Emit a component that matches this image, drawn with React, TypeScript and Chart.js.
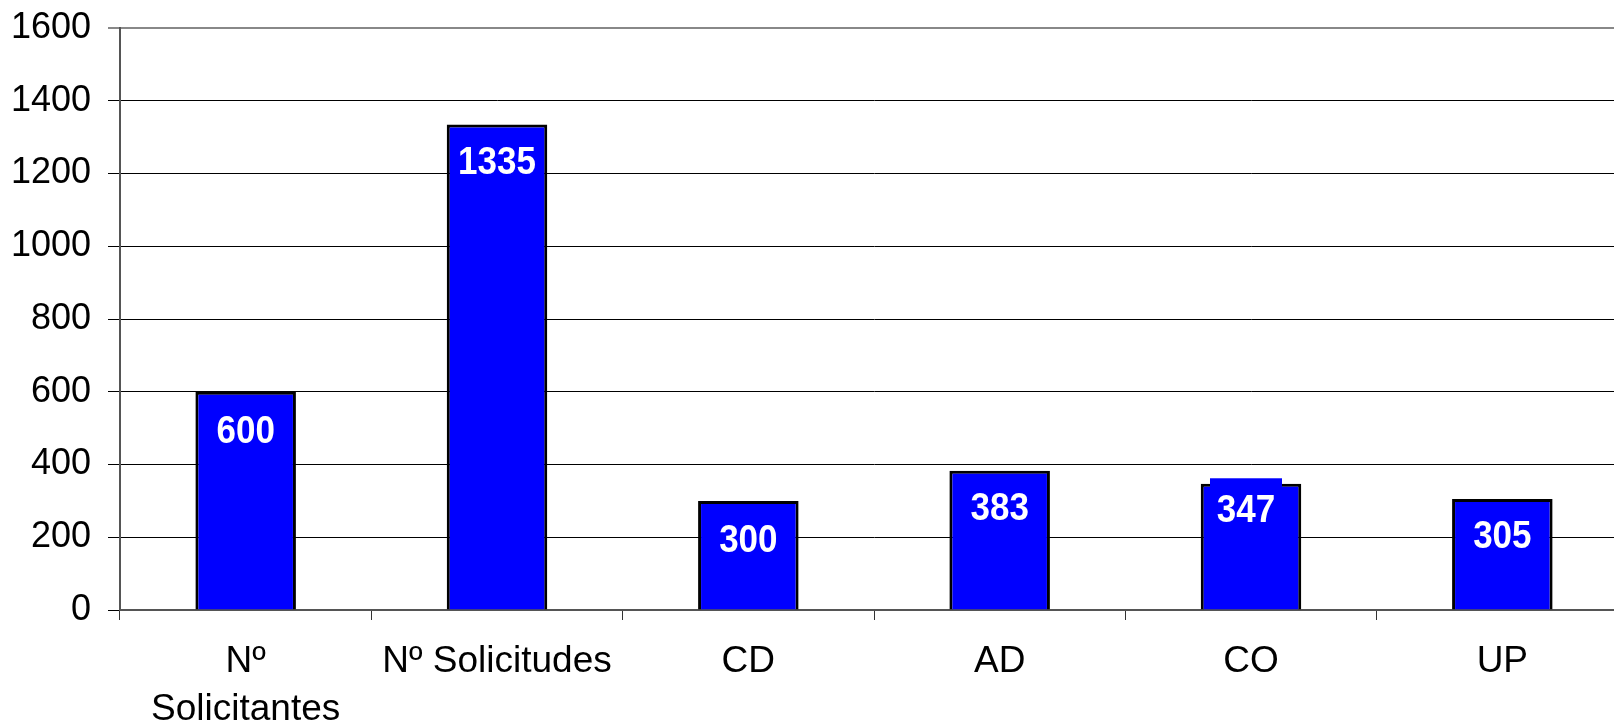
import React, { useEffect, useRef } from "react";
import { Chart, registerables } from "chart.js";

Chart.register(...registerables);

const categories: (string | string[])[] = [["Nº", "Solicitantes"], "Nº Solicitudes", "CD", "AD", "CO", "UP"];
const values: number[] = [600, 1335, 300, 383, 347, 305];
const yTicks: number[] = [0, 200, 400, 600, 800, 1000, 1200, 1400, 1600];

const labelPlugin = {
  id: "barLabels",
  afterDatasetsDraw(chart: any, _args: any, opts: any) {
    const ctx = chart.ctx;
    const meta = chart.getDatasetMeta(0);
    const offsets: number[] = opts.offsets || [];
    const size = 35;
    const capHalf = (size * 0.716) / 2;
    meta.data.forEach((bar: any, i: number) => {
      const v = chart.data.datasets[0].data[i];
      const dy = offsets[i] ?? 36;
      const cx = bar.x + (i === 4 ? -5 : 0);
      const cy = bar.y + dy;
      ctx.save();
      if (i === 4) {
        ctx.fillStyle = "#0000FF";
        ctx.fillRect(cx - 36, cy - 30, 72, 60);
      }
      ctx.translate(cx, cy);
      ctx.scale(1, 1.1);
      ctx.font = `bold ${size}px 'Liberation Sans', Arial, sans-serif`;
      ctx.textAlign = "center";
      ctx.textBaseline = "alphabetic";
      ctx.fillStyle = "#FFFFFF";
      ctx.fillText(String(v), 0, capHalf);
      ctx.restore();
    });
  },
};

export default function App() {
  const ref = useRef<HTMLCanvasElement | null>(null);
  useEffect(() => {
    if (!ref.current) return;
    const chart = new Chart(ref.current, {
      type: "bar",
      data: {
        labels: categories,
        datasets: [
          {
            data: values,
            backgroundColor: "#0000FF",
            borderColor: "#000000",
            borderWidth: 3,
            barPercentage: 0.4,
            categoryPercentage: 1,
          },
        ],
      },
      options: {
        animation: false,
        responsive: false,
        devicePixelRatio: 1,
        layout: { padding: { top: 28, left: 0, right: 0, bottom: 0 } },
        plugins: {
          legend: { display: false },
          tooltip: { enabled: false },
          barLabels: { offsets: [37.5, 36, 37, 35.7, 24.5, 35] },
        } as any,
        scales: {
          x: {
            afterFit: (scale: any) => {
              scale.height = 117;
            },
            grid: {
              offset: true,
              drawOnChartArea: false,
              drawTicks: true,
              tickLength: 10,
              color: "#333",
              lineWidth: 1,
            },
            border: { color: "#555", width: 2 },
            ticks: {
              color: "#000",
              padding: 17,
              font: { family: "'Liberation Sans', Arial, sans-serif", size: 37, lineHeight: 1.32 },
              maxRotation: 0,
              autoSkip: false,
            },
          },
          y: {
            min: 0,
            max: 1600,
            afterBuildTicks: (scale: any) => {
              scale.ticks = yTicks.map((v) => ({ value: v }));
            },
            afterFit: (scale: any) => {
              scale.width = 120;
              scale.paddingTop = 0;
              scale.paddingBottom = 0;
            },
            grid: {
              color: (c: any) => (c.tick && c.tick.value === 1600 ? "#888" : "#000"),
              lineWidth: (c: any) => (c.tick && c.tick.value === 1600 ? 2 : 1),
              tickLength: 12,
              drawTicks: true,
            },
            border: { color: "#555", width: 2 },
            ticks: {
              color: "#000",
              padding: 17,
              callback: (v: any) => String(v),
              font: { family: "'Liberation Sans', Arial, sans-serif", size: 36 },
            },
          },
        },
      },
      plugins: [labelPlugin],
    });
    return () => chart.destroy();
  }, []);
  return (
    <div style={{ position: "fixed", left: 0, top: 0, width: 1614, height: 727, overflow: "hidden", background: "#fff" }}>
      <canvas ref={ref} width={1628} height={727} />
    </div>
  );
}
